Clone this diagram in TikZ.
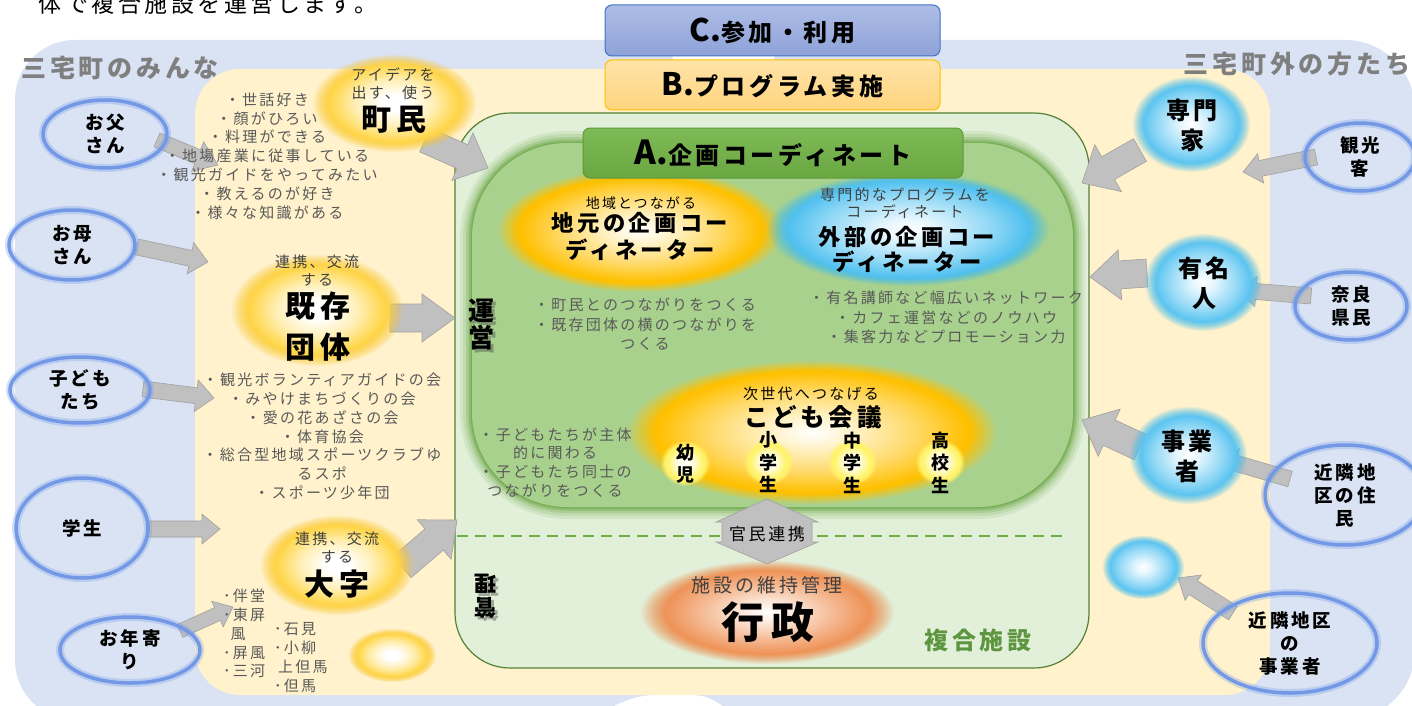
\documentclass[tikz,border=0pt]{standalone}
\usepackage{fontspec}
\setmainfont{Noto Sans CJK JP}[LetterSpace=15]
\usetikzlibrary{shapes.geometric,fadings,calc}
\definecolor{bluebg}{HTML}{DAE3F3}
\definecolor{yelbg}{HTML}{FFF2CC}
\definecolor{facbg}{HTML}{E2F0D9}
\definecolor{facline}{HTML}{548235}
\definecolor{blobc}{HTML}{A9D18E}
\definecolor{gglow}{HTML}{64A23D}
\definecolor{txtgray}{HTML}{595959}
\definecolor{titlegray}{HTML}{7F7F7F}
\definecolor{capgray}{HTML}{404040}
\definecolor{ringc}{HTML}{7399E6}
\definecolor{arrfill}{HTML}{C0C0C0}
\definecolor{arrline}{HTML}{A0A0A0}
\definecolor{aTop}{HTML}{7EBB57}
\definecolor{aBot}{HTML}{6AA642}
\definecolor{aLine}{HTML}{5E9A3A}
\definecolor{bTop}{HTML}{FFE3A8}
\definecolor{bBot}{HTML}{FFD47E}
\definecolor{bLine}{HTML}{FFC000}
\definecolor{cTop}{HTML}{AEBDE6}
\definecolor{cBot}{HTML}{8EA2D8}
\definecolor{cLine}{HTML}{4472C4}
\definecolor{facname}{HTML}{5E9640}
\definecolor{dashc}{HTML}{70AD47}
\definecolor{yA}{HTML}{FFEFB5}
\definecolor{yB}{HTML}{FFD851}
\definecolor{yC}{HTML}{F9C223}
\definecolor{yA2}{HTML}{FFF4CF}
\definecolor{yB2}{HTML}{FFD966}
\definecolor{yC2}{HTML}{FFC000}
\definecolor{bA}{HTML}{E3F5FD}
\definecolor{bB}{HTML}{8FD7F5}
\definecolor{bC}{HTML}{3FBAEE}
\definecolor{oA}{HTML}{FBE3D3}
\definecolor{oB}{HTML}{F2A97A}
\definecolor{oC}{HTML}{EC8340}
\definecolor{kA}{HTML}{FFFDE0}
\definecolor{kB}{HTML}{FFF36B}
\pgfdeclareradialshading{yglow}{\pgfpoint{0bp}{0bp}}{color(0bp)=(white); color(4bp)=(white); color(12bp)=(yA); color(19bp)=(yB); color(24bp)=(yC); color(50bp)=(yC)}
\pgfdeclareradialshading{yglowB}{\pgfpoint{0bp}{0bp}}{color(0bp)=(white); color(5bp)=(yA2); color(14bp)=(yB2); color(21bp)=(yC2); color(25bp)=(yC2); color(50bp)=(yC2)}
\pgfdeclareradialshading{bglow}{\pgfpoint{0bp}{0bp}}{color(0bp)=(white); color(5bp)=(bA); color(15bp)=(bB); color(23bp)=(bC); color(50bp)=(bC)}
\pgfdeclareradialshading{oglow}{\pgfpoint{0bp}{0bp}}{color(0bp)=(white); color(6bp)=(oA); color(16bp)=(oB); color(23bp)=(oC); color(50bp)=(oC)}
\pgfdeclareradialshading{kglow}{\pgfpoint{0bp}{0bp}}{color(0bp)=(white); color(8bp)=(kA); color(18bp)=(kB); color(50bp)=(kB)}
\newcommand\fsz[2]{\fontsize{#1}{#2}\selectfont}
\newcommand\latn{\addfontfeature{LetterSpace=0}}
\newcommand\glowE[5]{\shade[shading=#4, path fading=#5] (#1) ellipse [x radius=#2, y radius=#3];}
\newcommand\blkarrow[5]{%
  \filldraw[blockarr] let \p1=(#1), \p2=(#2),
    \n1={atan2(\y2-\y1,\x2-\x1)}, \n2={veclen(\x2-\x1,\y2-\y1)} in
    [shift={(\p1)}, rotate=\n1]
    (0,#3) -- ({\n2-#5},#3) -- ({\n2-#5},#4) -- ({\n2},0)
    -- ({\n2-#5},-#4) -- ({\n2-#5},-#3) -- (0,-#3) -- cycle;}
\tikzset{
  txt/.style={inner sep=0pt, align=center},
  lst/.style={txt, text=txtgray, font=\fsz{15}{18.8}},
  ring/.style={ellipse, draw=ringc, line width=3.5pt, inner sep=0pt, align=center,
    font=\fsz{18.5}{23}\bfseries, preaction={draw=ringc, line width=8pt, draw opacity=0.3}},
  blockarr/.style={fill=arrfill, draw=arrline, line width=0.6pt, line join=miter},
  capt/.style={txt, text=capgray, font=\fsz{15}{18}},
  bigtxt/.style={txt, font=\fsz{30}{41}\bfseries},
  blab/.style={txt, font=\fsz{24}{30}\bfseries},
  klab/.style={txt, font=\fsz{18}{22.5}\bfseries},
  banner/.style={rounded corners=7pt, line width=1pt, inner sep=0pt},
  ttl/.style={txt, text=titlegray, font=\fsz{25}{27}\bfseries},
}
\begin{document}
\begin{tikzpicture}[x=1pt,y=-1pt]
\useasboundingbox (0,0) rectangle (1412,706);
\fill[white] (0,0) rectangle (1412,706);
% backgrounds
\fill[bluebg, rounded corners=60pt] (15,40) rectangle (760,720);
\fill[bluebg, rounded corners=70pt] (640,40) rectangle (1415,720);
\fill[white, rounded corners=6pt] (672,36) rectangle (775,61);
\fill[white] (612,707) .. controls (630,698) and (642,695) .. (657,695) -- (690,695) .. controls (705,695) and (713,699) .. (724,707) -- cycle;
\fill[yelbg, rounded corners=45pt] (195,69) rectangle (1270,695);
% facility
\draw[fill=facbg, draw=facline, line width=1.2pt, rounded corners=55pt] (455,113) rectangle (1089,668);
\foreach \w/\o in {24/0.12,18/0.16,12/0.24,7/0.36,3/0.5} {\draw[gglow, line width=\w pt, opacity=\o, rounded corners=95pt] (472,143) rectangle (1073,507);}
\fill[blobc, rounded corners=95pt] (472,143) rectangle (1073,507);
\coordinate (dashL) at (457,536); \coordinate (dashR) at (1062,536);
\draw[dashc, line width=2pt, dash pattern=on 11pt off 7pt] (dashL) -- (dashR);

% arrow end points
\coordinate (a1s) at (157,140); \coordinate (a1e) at (218,165);
\coordinate (a2s) at (137,247); \coordinate (a2e) at (208,262);
\coordinate (a3s) at (143,389); \coordinate (a3e) at (214,398);
\coordinate (a4s) at (148,529); \coordinate (a4e) at (220,529);
\coordinate (a5s) at (180,631); \coordinate (a5e) at (233,607);
\coordinate (a6s) at (425,140); \coordinate (a6e) at (488,168);
\coordinate (a7s) at (390,318); \coordinate (a7e) at (455,318);
\coordinate (a8s) at (402,567); \coordinate (a8e) at (457,520);
\coordinate (a9s) at (1140,150); \coordinate (a9e) at (1082,183);
\coordinate (a10s) at (1147,273); \coordinate (a10e) at (1090,277);
\coordinate (a11s) at (1140,447); \coordinate (a11e) at (1082,420);
\coordinate (a12s) at (1316,157); \coordinate (a12e) at (1243,172);
\coordinate (a13s) at (1311,296); \coordinate (a13e) at (1238,290);
\coordinate (a14s) at (1290,479); \coordinate (a14e) at (1218,458);
\coordinate (a15s) at (1233,613); \coordinate (a15e) at (1178,578);
\blkarrow{a1s}{a1e}{7.5}{16}{22}
\blkarrow{a2s}{a2e}{8}{16}{18}
\blkarrow{a3s}{a3e}{8}{16}{18}
\blkarrow{a4s}{a4e}{8}{15}{18}
\blkarrow{a5s}{a5e}{7}{14}{17}
\blkarrow{a6s}{a6e}{13}{26}{28}
\blkarrow{a7s}{a7e}{14}{24}{33}
\blkarrow{a8s}{a8e}{14}{26}{30}
\blkarrow{a9s}{a9e}{13}{27}{30}
\blkarrow{a10s}{a10e}{14}{25}{30}
\blkarrow{a11s}{a11e}{14}{26}{30}
\blkarrow{a12s}{a12e}{8}{15}{18}
\blkarrow{a13s}{a13e}{8}{15}{18}
\blkarrow{a14s}{a14e}{8}{15}{18}
\blkarrow{a15s}{a15e}{8}{15}{18}

% glows
\glowE{394,103}{82}{49}{yglow}{circle with fuzzy edge 20 percent}
\glowE{317,310}{86}{56}{yglow}{circle with fuzzy edge 20 percent}
\glowE{337,565}{77}{50}{yglow}{circle with fuzzy edge 20 percent}
\glowE{392,655}{44}{27}{yglow}{circle with fuzzy edge 20 percent}
\glowE{640,230}{143}{62}{yglowB}{circle with fuzzy edge 15 percent}
\glowE{908,229}{141}{57}{bglow}{circle with fuzzy edge 15 percent}
\glowE{812,432}{185}{72}{yglowB}{circle with fuzzy edge 15 percent}
\glowE{685,463}{25}{23}{kglow}{circle with fuzzy edge 20 percent}
\glowE{768,462}{25}{23}{kglow}{circle with fuzzy edge 20 percent}
\glowE{852,462}{25}{23}{kglow}{circle with fuzzy edge 20 percent}
\glowE{940,462}{25}{23}{kglow}{circle with fuzzy edge 20 percent}
\glowE{767,612}{127}{52}{oglow}{circle with fuzzy edge 20 percent}
\glowE{1191,124}{59}{48}{bglow}{circle with fuzzy edge 20 percent}
\glowE{1203,282}{59}{49}{bglow}{circle with fuzzy edge 20 percent}
\glowE{1188,455}{59}{49}{bglow}{circle with fuzzy edge 20 percent}
\glowE{1143,567}{41}{32}{bglow}{circle with fuzzy edge 20 percent}

% kanmin double arrow
\coordinate (kmTop) at (767,499); \coordinate (kmBot) at (767,564);
\filldraw[blockarr] (kmTop) -- ++(51,23) -- ++(-6,0) -- ++(0,20) -- ++(6,0) -- (kmBot)
  -- ++(-51,-22) -- ++(6,0) -- ++(0,-20) -- ++(-6,0) -- cycle;
\node[txt, font=\fsz{17}{19}] (kanmin) at (767,534) {官民連携};

% banners
\node[banner, top color=cTop, bottom color=cBot, draw=cLine, minimum width=335pt, minimum height=51pt] (bC) at (772.5,30.5) {{\fsz{31}{31}\bfseries\latn C.}{\fsz{24}{24}\bfseries 参加・利用}};
\node[banner, top color=bTop, bottom color=bBot, draw=bLine, minimum width=335pt, minimum height=50pt] (bB) at (772.5,85) {{\fsz{31}{31}\bfseries\latn B.}{\fsz{24}{24}\bfseries プログラム実施}};
\node[banner, top color=aTop, bottom color=aBot, draw=aLine, minimum width=380pt, minimum height=50pt] (bA) at (773,153) {{\fsz{33}{33}\bfseries\latn A.}{\fsz{24}{24}\bfseries 企画コーディネート}};

% titles
\node[txt, font=\fsz{23}{25}] (topline) at (208,4) {体で複合施設を運営します。};
\node[ttl] (minna) at (120,68) {三宅町のみんな};
\node[ttl] (soto) at (1297,64) {三宅町外の方たち};

% rings
\node[ring, minimum width=124pt, minimum height=68pt] (oto) at (105,134) {お父\\さん};
\node[ring, minimum width=126pt, minimum height=70pt] (haha) at (72,245) {お母\\さん};
\node[ring, minimum width=140pt, minimum height=66pt] (kodomo) at (80,390) {子ども\\たち};
\node[ring, minimum width=132pt, minimum height=100pt] (gakusei) at (82,528) {学生};
\node[ring, minimum width=140pt, minimum height=66pt] (toshi) at (130,650) {お年寄\\り};
\node[ring, minimum width=110pt, minimum height=68pt] (kanko) at (1360,157) {観光\\客};
\node[ring, minimum width=112pt, minimum height=68pt] (nara) at (1351,306) {奈良\\県民};
\node[ring, minimum width=160pt, minimum height=100pt] (kinrin) at (1345,495) {近隣地\\区の住\\民};
\node[ring, minimum width=174pt, minimum height=100pt] (kinjig) at (1290,643) {近隣地区\\の\\事業者};

% glow labels
\node[capt] (chominCap) at (393,84) {アイデアを\\出す、使う};
\node[bigtxt] (chomin) at (394,120) {町民};
\node[capt] (kizonCap) at (317,271) {連携、交流\\する};
\node[bigtxt] (kizon) at (318,327) {既存\\団体};
\node[capt] (oazaCap) at (337,548) {連携、交流\\する};
\node[bigtxt] (oaza) at (337,584) {大字};
\node[txt, font=\fsz{14}{16}] (jimotoCap) at (641,203) {地域とつながる};
\node[txt, font=\fsz{22.3}{26.5}\bfseries] (jimoto) at (640,236.5) {地元の企画コー\\ディネーター};
\node[capt, font=\fsz{15}{17}] (gaibuCap) at (905,203.5) {専門的なプログラムを\\コーディネート};
\node[txt, font=\fsz{22.3}{25}\bfseries] (gaibu) at (907,249.5) {外部の企画コー\\ディネーター};
\node[txt, font=\fsz{15}{17}] (kodomoCap) at (811,394) {次世代へつなげる};
\node[txt, font=\fsz{24.5}{28}\bfseries] (kaigi) at (813,417) {こども会議};
\node[klab] (youji) at (685,463.5) {幼\\児};
\node[klab] (shou) at (768,462.5) {小\\学\\生};
\node[klab] (chuu) at (852,462.5) {中\\学\\生};
\node[klab] (kou) at (940,462.5) {高\\校\\生};
\node[capt, font=\fsz{19}{21}] (gyoseiCap) at (767,585) {施設の維持管理};
\node[txt, font=\fsz{43}{45}\bfseries] (gyosei) at (768,622) {行政};
\node[blab] (senmon) at (1192,125) {専門\\家};
\node[blab] (yumei) at (1204,283) {有名\\人};
\node[blab] (jigyo) at (1187,456) {事業\\者};

% lists
\node[lst] (list1) at (267,156) {・世話好き\\・顔がひろい\\・料理ができる\\・地場産業に従事している\\・観光ガイドをやってみたい\\・教えるのが好き\\・様々な知識がある};
\node[lst] (list2) at (322,436.5) {・観光ボランティアガイドの会\\・みやけまちづくりの会\\・愛の花あざさの会\\・体育協会\\・総合型地域スポーツクラブゆ\\るスポ\\・スポーツ少年団};
\node[lst, align=left, anchor=west] (oaza1) at (223,633.5) {･伴堂\\･東屏\\\hphantom{･}風\\･屏風\\･三河};
\node[lst, align=left, anchor=west] (oaza2) at (274,657.5) {･石見\\･小柳\\\hspace*{4pt}上但馬\\･但馬};
\node[lst, font=\fsz{15}{19.5}] (list3) at (645,324.5) {・町民とのつながりをつくる\\・既存団体の横のつながりを\\つくる};
\node[lst, font=\fsz{15}{19.5}] (list4) at (946,317.5) {・有名講師など幅広いネットワーク\\・カフェ運営などのノウハウ\\・集客力などプロモーション力};
\node[lst] (list5) at (555,462.5) {・子どもたちが主体\\的に関わる\\・子どもたち同士の\\つながりをつくる};

% side labels
\node[txt, font=\fsz{26}{27}\bfseries, text=black!70, opacity=0.45] (uneiS) at (484,327) {運\\営};
\node[txt, font=\fsz{26}{27}\bfseries] (unei) at (481,324) {運\\営};
\node[txt, font=\fsz{22}{24}\bfseries, text=black!70, opacity=0.45, rotate=180] (kanriS) at (488,599) {管\\理};
\node[txt, font=\fsz{22}{24}\bfseries, rotate=180] (kanri) at (485,596) {管\\理};
\node[txt, text=facname, font=\fsz{24}{26}\bfseries] (fukugo) at (978,640) {複合施設};
\end{tikzpicture}
\end{document}
